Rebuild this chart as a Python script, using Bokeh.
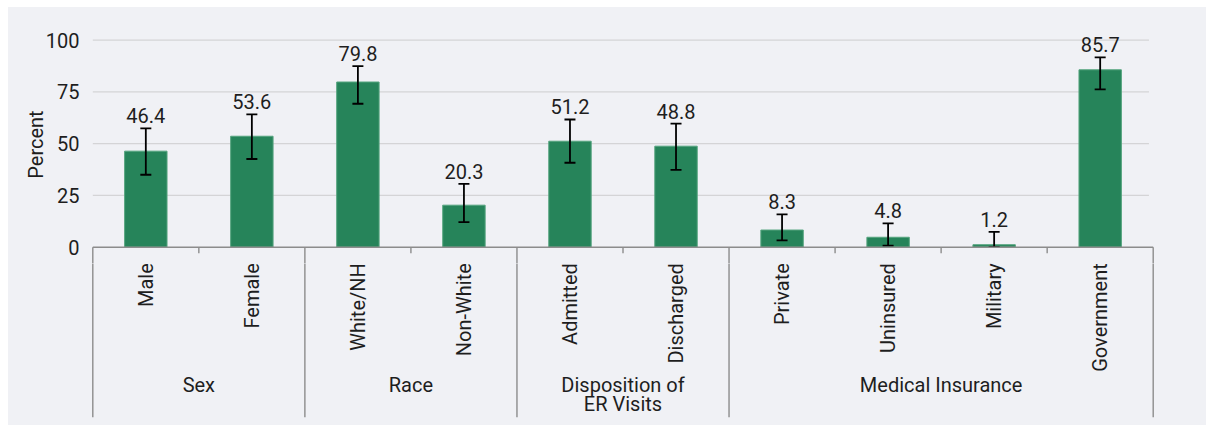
import math
from bokeh.plotting import figure
from bokeh.layouts import column
from bokeh.models import Range1d, FixedTicker, ColumnDataSource
from bokeh.core.properties import value
from bokeh.embed import file_html
from bokeh.resources import INLINE

# ---- data ----
categories = ["Male", "Female", "White/NH", "Non-White", "Admitted", "Discharged",
              "Private", "Uninsured", "Military", "Government"]
groups = ["Sex", "Race", "Disposition of\nER Visits", "Medical Insurance"]
group_sizes = [2, 2, 2, 4]
percent = [46.4, 53.6, 79.8, 20.3, 51.2, 48.8, 8.3, 4.8, 1.2, 85.7]
ci_lower = [35.0, 42.6, 69.3, 12.1, 40.8, 37.4, 3.3, 0.8, 0.0, 76.2]
ci_upper = [57.4, 64.2, 87.5, 30.6, 61.7, 59.7, 15.9, 11.5, 7.4, 91.7]
y_ticks = [0, 25, 50, 75, 100]

# ---- style ----
FONT = value("Roboto")
TXT = "#1e1e1e"
GREEN = "#26845a"
GREEN_EDGE = "#55a47e"
AXIS = "#8c8c8c"
GRID = "#d4d4d6"
BG = "#f0f1f5"

W = 1198
B_LEFT, B_RIGHT = 79, 48
PX = 2.07                 # px per y unit
H1, B_TOP = 256, 18       # upper panel height / top border
ZERO = 239.7              # zero line, px from upper panel top
Y1 = (ZERO - B_TOP) / PX
Y0 = -(H1 - ZERO) / PX
XPX = (W - B_LEFT - B_RIGHT) / 10.1       # px per x unit
H2 = 162
GAP = H1 - ZERO                           # px from zero line to lower panel top

n = len(categories)
xs = [i + 0.5 for i in range(n)]
xr = Range1d(-0.05, n + 0.05)

bounds = [0]
for s in group_sizes:
    bounds.append(bounds[-1] + s)
inner = [i for i in range(1, n) if i not in bounds]


def style(fig):
    fig.background_fill_color = BG
    fig.border_fill_color = BG
    fig.outline_line_color = None
    fig.grid.visible = False


# ---------- upper panel: bars ----------
p = figure(width=W, height=H1, x_range=xr, y_range=Range1d(Y0, Y1),
           x_axis_type=None, output_backend="svg", toolbar_location=None,
           min_border_left=B_LEFT, min_border_right=B_RIGHT,
           min_border_top=B_TOP, min_border_bottom=0)
style(p)

ax = p.yaxis[0]
ax.ticker = FixedTicker(ticks=y_ticks)
ax.axis_line_color = None
ax.major_tick_line_color = None
ax.minor_tick_line_color = None
ax.major_label_standoff = 2
ax.major_label_text_font = "Roboto"
ax.major_label_text_font_size = "20px"
ax.major_label_text_color = TXT
ax.axis_label = "Percent"
ax.axis_label_standoff = -5
ax.axis_label_text_font = "Roboto"
ax.axis_label_text_font_size = "20px"
ax.axis_label_text_font_style = "normal"
ax.axis_label_text_color = TXT

gt = [t for t in y_ticks if t > 0]
p.segment(x0=[0] * len(gt), x1=[n - 0.04] * len(gt), y0=gt, y1=gt, line_color=GRID, line_width=1.2)

cap = 5.5 / XPX
src = ColumnDataSource(dict(x=xs, top=percent, lower=ci_lower, upper=ci_upper,
                            cl=[x - cap for x in xs], cr=[x + cap for x in xs],
                            lab=[f"{v:.1f}" for v in percent],
                            ly=[u + 5 / PX for u in ci_upper]))
p.vbar(x="x", top="top", width=0.4, bottom=0, source=src, fill_color=GREEN,
       line_color=GREEN_EDGE, line_width=1)

p.segment(x0="x", x1="x", y0="lower", y1="upper", source=src, line_color="black", line_width=1.8)
p.segment(x0="cl", x1="cr", y0="upper", y1="upper", source=src, line_color="black", line_width=1.8)
p.segment(x0="cl", x1="cr", y0="lower", y1="lower", source=src, line_color="black", line_width=1.8)

p.text(x="x", y="ly", text="lab", source=src, text_font=FONT, text_font_size="20px",
       text_color=TXT, text_align="center", text_baseline="bottom")

# group separators and inner ticks (upper part)
p.segment(x0=bounds, x1=bounds, y0=[0] * len(bounds), y1=[Y0] * len(bounds),
          line_color=AXIS, line_width=1.4)
p.segment(x0=inner, x1=inner, y0=[0] * len(inner), y1=[-6 / PX] * len(inner),
          line_color=AXIS, line_width=1.4)
p.segment(x0=[0], x1=[n], y0=[0], y1=[0], line_color=AXIS, line_width=1.4)

# ---------- lower panel: category axis (y in px below the zero line) ----------
q = figure(width=W, height=H2, x_range=xr, y_range=Range1d(-(GAP + H2), -GAP),
           x_axis_type=None, y_axis_type=None, output_backend="svg", toolbar_location=None,
           min_border_left=B_LEFT, min_border_right=B_RIGHT,
           min_border_top=0, min_border_bottom=0)
style(q)

q.segment(x0=bounds, x1=bounds, y0=[0] * len(bounds), y1=[-170] * len(bounds),
          line_color=AXIS, line_width=1.4)

q.text(x=xs, y=[-16] * n, text=categories, angle=math.pi / 2, text_font=FONT,
       text_font_size="20px", text_color=TXT, text_align="right", text_baseline="middle")

gx = [(bounds[i] + bounds[i + 1]) / 2 for i in range(len(groups))]
q.text(x=gx, y=[-126] * len(groups), text=groups, text_font=FONT, text_font_size="20px",
       text_color=TXT, text_align="center", text_baseline="top", text_line_height=0.8)

layout = column(p, q, spacing=0)
layout.margin = (7, 0, 0, 8)
layout.styles = {"background-color": BG}

open("out.html", "w").write(file_html(layout, INLINE))
